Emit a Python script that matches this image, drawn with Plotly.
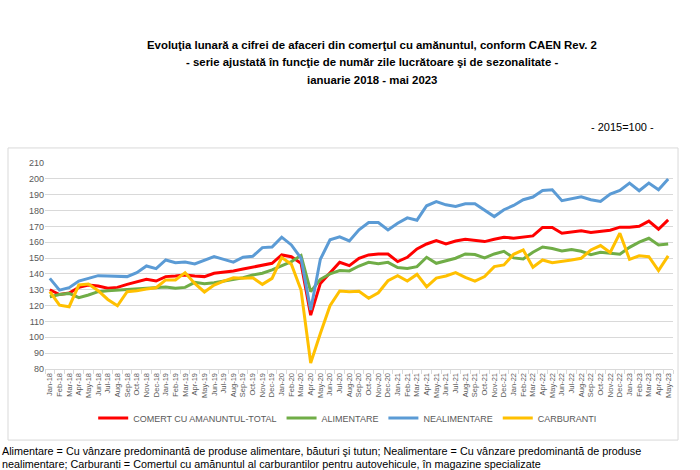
import plotly.graph_objects as go

months = ["Jan", "Feb", "Mar", "Apr", "May", "Jun", "Jul", "Aug", "Sep", "Oct", "Nov", "Dec"]
years = ["18", "19", "20", "21", "22", "23"]
categories = [f"{m}-{y}" for y in years for m in months][:65]

total = [130, 127, 128, 131.5, 133, 132.4, 131, 131.5, 133.4, 135, 136.6, 135.5,
         138.3, 138.7, 139.3, 138.7, 138.3, 140.4, 141, 141.9, 143.1, 144.4, 145.7, 146.7,
         152, 150.9, 146.7, 114, 134, 140.4, 147.3, 145.2, 149.9, 152, 152.6, 152.6,
         147.8, 150.5, 155.8, 158.9, 161.1, 158.9, 160.8, 161.9, 161.1, 160.4, 161.9, 163.2,
         162.5, 163.4, 164, 169.3, 169.3, 165.7, 166.5, 167.2, 166.1, 167, 167.6, 169.5,
         169.5, 170.1, 173.3, 168.2, 174.1]

alimentare = [125.6, 127, 127.7, 125, 126.7, 128.8, 129.4, 129.8, 130, 130.5, 131, 131.5,
              131.7, 130.9, 131.5, 134.7, 133.8, 134.5, 135.4, 136.6, 137.6, 139.3, 140.4, 142.5,
              145, 147.8, 151.6, 128.8, 136.6, 140, 142.1, 141.9, 145, 147.3, 146.5, 147.3,
              144, 143.5, 144.6, 150.5, 146.7, 148.4, 149.9, 152.6, 152.2, 150.1, 152.6, 154.3,
              150.1, 149.5, 153.7, 157, 156, 154.5, 155.4, 154.3, 152.2, 153.7, 153, 152.4,
              156.8, 160, 162.5, 158.3, 158.9]

nealimentare = [137.2, 129.8, 131.3, 135.5, 137.2, 138.9, 138.7, 138.5, 138.3, 140.8, 145, 143.3,
                148.8, 147.1, 147.5, 146.3, 148.4, 150.9, 149.2, 147.4, 150.5, 151.1, 156.6, 157,
                163.2, 158.3, 149.9, 117.2, 149.2, 161.5, 163.4, 160.8, 167.8, 172.4, 172.4, 167.8,
                172, 175.4, 173.9, 183, 185.7, 183.6, 182.6, 184.3, 184.3, 180, 176.2, 180.5,
                183.2, 186.8, 188.5, 192.7, 193.1, 186.2, 187.4, 188.7, 186.8, 185.7, 190.4, 192.7,
                197.3, 192.5, 197.3, 193.1, 199.9]

carburanti = [128.8, 120.3, 119.3, 133, 133.6, 129.4, 123.9, 119.9, 128.8, 129.4, 130.5, 131.3,
              136.2, 136.2, 140.8, 134, 128.6, 133, 135.5, 137.6, 137.2, 137.6, 133.4, 137.2,
              150.3, 146.1, 129.8, 83.8, 102.4, 119.9, 129.2, 128.8, 129, 124.6, 128.1, 135.7,
              138.9, 135.5, 139.7, 131.9, 137.4, 138.7, 140.8, 137.8, 135.5, 138.3, 144.6, 145.7,
              152.4, 155.1, 144.2, 148.8, 147.1, 147.8, 148.8, 149.9, 155.1, 157.9, 153.5, 165.7,
              149.2, 151.4, 150.9, 142.1, 151.4]

series = [
    ("COMERT CU AMANUNTUL-TOTAL", total, "#ff0000"),
    ("ALIMENTARE", alimentare, "#70ad47"),
    ("NEALIMENTARE", nealimentare, "#5b9bd5"),
    ("CARBURANTI", carburanti, "#ffc000"),
]

fig = go.Figure()
for name, vals, col in series:
    fig.add_trace(go.Scatter(x=categories, y=vals, mode="lines", name=name,
                             line=dict(color=col, width=3)))

FONT = "Liberation Sans"
fig.update_layout(
    width=700, height=470,
    margin=dict(l=45, r=27, t=163, b=101),
    paper_bgcolor="white", plot_bgcolor="white",
    font=dict(family=FONT, color="#595959"),
    showlegend=True,
    legend=dict(orientation="h", x=0.482, xanchor="center", y=-0.238, yanchor="middle",
                font=dict(size=9, color="#595959"), itemwidth=30, tracegroupgap=0),
    xaxis=dict(type="category", range=[-0.5, 64.5], tickangle=-90,
               tickmode="array", tickvals=categories, ticktext=categories,
               tickfont=dict(size=7.5, color="#595959"), showgrid=False,
               showline=True, linecolor="#d9d9d9", linewidth=1,
               ticks="outside", ticklen=4, tickcolor="#d9d9d9", tickson="boundaries"),
    yaxis=dict(range=[80, 210], dtick=10, tick0=80, showgrid=True, gridcolor="#d9d9d9",
               gridwidth=1, zeroline=False, showline=False,
               tickfont=dict(size=9, color="#595959")),
)

fig.add_shape(type="rect", xref="paper", yref="paper", x0=-0.0589, x1=1.008, y0=-0.345, y1=1.073,
              line=dict(color="#d9d9d9", width=1), fillcolor="rgba(0,0,0,0)", layer="below")

titles = [
    ("Evoluţia lunară a cifrei de afaceri din comerţul cu amănuntul, conform CAEN Rev. 2", 1.573),
    ("- serie ajustată în funcţie de număr zile lucrătoare şi de sezonalitate -", 1.49),
    ("ianuarie 2018 - mai 2023", 1.403),
]
for txt, yy in titles:
    fig.add_annotation(text=f"<b>{txt}</b>", xref="paper", yref="paper", x=0.52, y=yy,
                       xanchor="center", yanchor="middle", showarrow=False,
                       font=dict(family=FONT, size=11.4, color="black"))

fig.add_annotation(text="- 2015=100 -", xref="paper", yref="paper", x=0.919, y=1.175,
                   xanchor="center", yanchor="middle", showarrow=False,
                   font=dict(family=FONT, size=11, color="black"))

notes = [
    ("Alimentare = Cu vânzare predominantă de produse alimentare, băuturi şi tutun; Nealimentare = Cu vânzare predominantă de produse", -0.398),
    ("nealimentare; Carburanti = Comertul cu amănuntul al carburantilor pentru autovehicule, în magazine specializate", -0.46),
]
for txt, yy in notes:
    fig.add_annotation(text=txt, xref="paper", yref="paper", x=-0.0717, y=yy,
                       xanchor="left", yanchor="middle", showarrow=False,
                       font=dict(family=FONT, size=10.8, color="black"))

fig.write_html("out.html")
